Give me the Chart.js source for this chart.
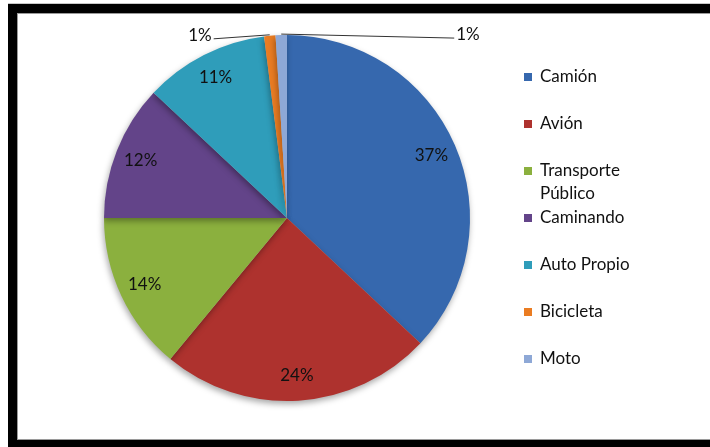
<!DOCTYPE html>
<html>
<head>
<meta charset="utf-8">
<script src="https://cdn.jsdelivr.net/npm/chart.js@4/dist/chart.umd.min.js"></script>
<style>
  html, body { margin: 0; padding: 0; background: #fff; overflow: hidden; }
  #wrap { position: relative; width: 710px; height: 447px; }
  /* heavy black frame around the chart area */
  #frame {
    position: absolute; left: 8px; top: 3px; width: 800px; height: 436px;
    border-top: 1px solid #c8c8c8;
  }
  #frame .black {
    position: absolute; left: 0; top: 0; right: 0; bottom: -8px;
    border-left: 9px solid #000; border-top: 9px solid #000; border-bottom: 8px solid #000;
  }
  #frame .inner {
    position: absolute; left: 9px; top: 9px; right: 0; bottom: 0;
    border-left: 1px solid #9a9a9a; border-top: 1px solid #9a9a9a; border-bottom: 1px solid #9a9a9a;
  }
  canvas { position: absolute; left: 0; top: 0; }
</style>
</head>
<body>
<div id="wrap">
  <div id="frame"><div class="black"></div><div class="inner"></div></div>
  <canvas id="pie" width="710" height="447"></canvas>
</div>
<script>
// Modos de transporte (porcentajes)
const categories = ['Camión', 'Avión', 'Transporte Público', 'Caminando', 'Auto Propio', 'Bicicleta', 'Moto'];
const legendLines = [['Camión'], ['Avión'], ['Transporte', 'Público'], ['Caminando'], ['Auto Propio'], ['Bicicleta'], ['Moto']];
const values = [37, 24, 14, 12, 11, 1, 1];
const colors = ['#3668ae', '#ae322e', '#8bb03e', '#634489', '#2f9dba', '#ea7c22', '#8ea8d6'];

const FONT = '17px Lato, "Open Sans", sans-serif';
const TEXT_COLOR = '#111';

// soft drop shadow under the pie
const shadowPlugin = {
  id: 'pieShadow',
  beforeDatasetDraw(chart) {
    const ctx = chart.ctx;
    ctx.save();
    ctx.shadowColor = 'rgba(0,0,0,0.35)';
    ctx.shadowBlur = 6;
    ctx.shadowOffsetX = -1;
    ctx.shadowOffsetY = 3;
  },
  afterDatasetDraw(chart) {
    chart.ctx.restore();
  }
};

// percentage labels: inside for big slices, callout lines for the tiny ones
const labelPlugin = {
  id: 'pctLabels',
  afterDatasetsDraw(chart) {
    const ctx = chart.ctx;
    const meta = chart.getDatasetMeta(0);
    const total = values.reduce((a, b) => a + b, 0);
    ctx.save();
    ctx.font = FONT;
    ctx.fillStyle = TEXT_COLOR;
    meta.data.forEach((arc, i) => {
      const p = arc.getProps(['x', 'y', 'startAngle', 'endAngle', 'outerRadius'], true);
      const mid = (p.startAngle + p.endAngle) / 2;
      const txt = Math.round(values[i] / total * 100) + '%';
      if (values[i] / total >= 0.05) {
        const r = p.outerRadius * 0.86;
        ctx.textAlign = 'center';
        ctx.textBaseline = 'middle';
        ctx.fillText(txt, p.x + Math.cos(mid) * r, p.y + Math.sin(mid) * r);
      } else {
        const ex = p.x + Math.cos(mid) * (p.outerRadius + 1);
        const ey = p.y + Math.sin(mid) * (p.outerRadius + 1);
        const left = i < meta.data.length - 1;
        const lx = left ? ex - 56 : ex + 173;
        const ly = ey + 4;
        ctx.strokeStyle = '#333';
        ctx.lineWidth = 1;
        ctx.beginPath();
        ctx.moveTo(ex, ey);
        ctx.lineTo(lx, ly);
        ctx.stroke();
        ctx.textBaseline = 'bottom';
        ctx.textAlign = left ? 'right' : 'left';
        ctx.fillText(txt, left ? lx - 2 : lx + 2, ly + 5);
      }
    });
    ctx.restore();
  }
};

// legend on the right, with wrapped entries
const legendPlugin = {
  id: 'sideLegend',
  afterDraw(chart) {
    const ctx = chart.ctx;
    const x0 = 524, step = 47, lineH = 23;
    let y = 77;
    ctx.save();
    ctx.font = FONT;
    ctx.textAlign = 'left';
    ctx.textBaseline = 'middle';
    legendLines.forEach((lines, i) => {
      ctx.fillStyle = colors[i];
      ctx.fillRect(x0, y - 4, 8, 8);
      ctx.fillStyle = TEXT_COLOR;
      lines.forEach((ln, k) => ctx.fillText(ln, x0 + 16, y + k * lineH));
      y += step;
    });
    ctx.restore();
  }
};

new Chart(document.getElementById('pie'), {
  type: 'pie',
  data: {
    labels: categories,
    datasets: [{
      data: values,
      backgroundColor: colors,
      borderWidth: 0
    }]
  },
  options: {
    responsive: false,
    animation: false,
    layout: { padding: { left: 104, right: 240, top: 35, bottom: 46 } },
    plugins: {
      legend: { display: false },
      tooltip: { enabled: false }
    }
  },
  plugins: [shadowPlugin, labelPlugin, legendPlugin]
});
</script>
</body>
</html>
